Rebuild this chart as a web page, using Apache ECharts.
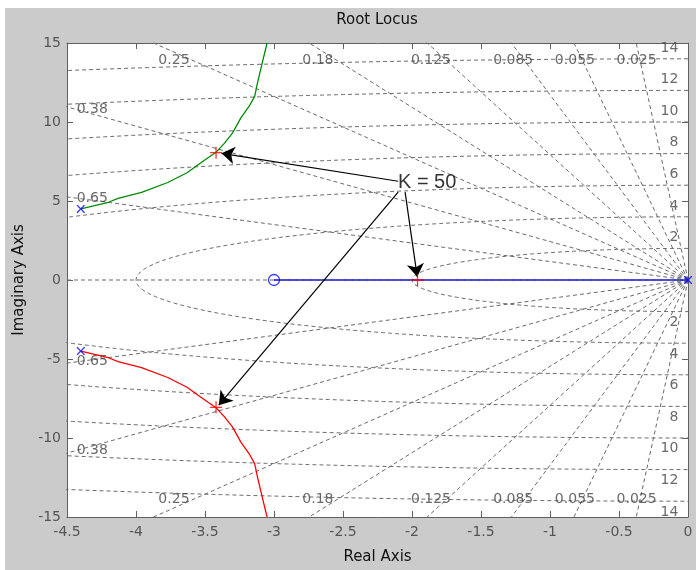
<!DOCTYPE html>
<html><head><meta charset="utf-8">
<script src="https://cdn.jsdelivr.net/npm/echarts@6/dist/echarts.min.js"></script>
<style>
html,body{margin:0;padding:0;background:#fff;}
#c{width:696px;height:570px;background:linear-gradient(#cbcbcb,#cbcbcb) 5px 8px/691px 562px no-repeat #fff;}
</style></head><body><div id="c"></div>
<script>
// ---- axes ----
const xRange = [-4.5, 0], xStep = 0.5;
const yRange = [-15, 15], yStep = 5;
// ---- s-grid values ----
const zetaVals = [0.025, 0.055, 0.085, 0.125, 0.18, 0.25, 0.38, 0.65];
const zetaLabels = ['0.025', '0.055', '0.085', '0.125', '0.18', '0.25', '0.38', '0.65'];
const wnVals = [2, 4, 6, 8, 10, 12, 14];
const wnLabels = ['2', '4', '6', '8', '10', '12', '14'];
// ---- open-loop poles / zeros ----
const poles = [[-4.4, 4.5], [-4.4, -4.5], [0, 0]];
const zerosPts = [[-3, 0]];
// ---- locus branches ----
const realBranch = [[0, 0], [-3, 0]];
const upperBranch = [[-4.40, 4.50], [-4.30, 4.70], [-4.20, 4.92], [-4.13, 5.16], [-3.96, 5.54], [-3.77, 6.17],
  [-3.63, 6.79], [-3.53, 7.42], [-3.42, 8.08], [-3.36, 8.65], [-3.30, 9.31], [-3.24, 10.26], [-3.18, 11.00],
  [-3.14, 11.62], [-3.12, 12.46], [-3.08, 13.93], [-3.05, 15.00]];
const lowerBranch = [[-4.40, -4.50], [-4.30, -4.70], [-4.20, -4.92], [-4.13, -5.16], [-3.96, -5.54], [-3.77, -6.17],
  [-3.63, -6.79], [-3.53, -7.42], [-3.42, -8.08], [-3.36, -8.65], [-3.30, -9.31], [-3.24, -10.26], [-3.18, -11.00],
  [-3.14, -11.62], [-3.12, -12.46], [-3.08, -13.93], [-3.05, -15.00]];
// ---- closed-loop poles at K = 50 and annotation ----
const gainPoints = [[-3.42, 8.06], [-3.42, -8.06], [-1.96, 0]];
const gainText = 'K = 50';
const gainTextPos = [-1.89, 6.18];
const arrowStarts = [[-2.10, 6.25], [-2.10, 5.56], [-2.05, 5.56]];
const arrowEnds = [[-3.38, 8.02], [-3.40, -7.92], [-1.962, 0.2]];

const FONT = 'DejaVu Sans';
const gridStyle = { color: '#6a6a6a', width: 1, type: [4, 3] };
const series = [];

series.push({ type: 'line', data: realBranch, symbol: 'none', lineStyle: { color: '#0000ff', width: 1.3 }, z: 2, animation: false, silent: true });

// damping-ratio rays
zetaVals.forEach(z => {
  const R = 40, s = Math.sqrt(1 - z * z);
  [1, -1].forEach(sg => {
    series.push({ type: 'line', data: [[0, 0], [-R * z, sg * R * s]], symbol: 'none', lineStyle: gridStyle, z: 1, animation: false, silent: true });
  });
});
// zeta = 1 ray (real axis)
series.push({ type: 'line', data: [[xRange[0], 0], [0, 0]], symbol: 'none', lineStyle: gridStyle, z: 3, animation: false, silent: true });
// natural-frequency circles
wnVals.forEach(w => {
  const pts = [];
  const N = 720;
  for (let i = 0; i <= N; i++) {
    const t = Math.PI / 2 + Math.PI * i / N;
    pts.push([w * Math.cos(t), w * Math.sin(t)]);
  }
  series.push({ type: 'line', data: pts, symbol: 'none', lineStyle: gridStyle, z: 1, animation: false, silent: true });
});

// grid labels
const labelStyle = { show: true, position: [0, 0], color: '#444', fontSize: 14, fontFamily: FONT, verticalAlign: 'middle' };
const gridLabelData = [];
zetaVals.forEach((z, i) => {
  const slope = Math.sqrt(1 - z * z) / z;
  if (yRange[1] / slope < -xRange[0]) {
    [13.9, -13.9].forEach(y => gridLabelData.push({ value: [-14.9 * z, y], label: Object.assign({}, labelStyle, { formatter: zetaLabels[i], align: 'center' }) }));
  } else {
    const x = -4.43;
    [1, -1].forEach(sg => gridLabelData.push({ value: [x, sg * (-x) * slope], label: Object.assign({}, labelStyle, { formatter: zetaLabels[i], align: 'left' }) }));
  }
});
wnVals.forEach((w, i) => {
  [1, -1].forEach(sg => gridLabelData.push({ value: [-0.07, sg * (w + 0.68)], label: Object.assign({}, labelStyle, { formatter: wnLabels[i], align: 'right' }) }));
});
series.push({ type: 'scatter', data: gridLabelData, symbolSize: 0, z: 4, animation: false, silent: true });

// complex branches
series.push({ type: 'line', data: upperBranch, symbol: 'none', lineStyle: { color: '#008a00', width: 1.3 }, z: 5, animation: false, silent: true });
series.push({ type: 'line', data: lowerBranch, symbol: 'none', lineStyle: { color: '#ff0000', width: 1.3 }, z: 5, animation: false, silent: true });

// poles and zeros
const xPath = 'path://M0,0L1.2,0L5,3.8L8.8,0L10,0L10,1.2L6.2,5L10,8.8L10,10L8.8,10L5,6.2L1.2,10L0,10L0,8.8L3.8,5L0,1.2Z';
series.push({ type: 'scatter', data: poles, symbol: xPath, symbolSize: 8, itemStyle: { color: '#0000ff' }, z: 6, animation: false, silent: true });
series.push({ type: 'scatter', data: zerosPts, symbol: 'circle', symbolSize: 11, itemStyle: { color: 'rgba(0,0,0,0)', borderColor: '#0000ff', borderWidth: 1.3 }, z: 6, animation: false, silent: true });
const plusPath = 'path://M4.45,0H5.55V10H4.45ZM0,4.45H10V5.55H0Z';
series.push({ type: 'scatter', data: gainPoints, symbol: plusPath, symbolSize: 12, itemStyle: { color: '#ff0000' }, z: 7, animation: false, silent: true });

// annotation text
series.push({
  type: 'scatter', data: [{ value: gainTextPos }], symbolSize: 0, z: 8, animation: false, silent: true,
  label: { show: true, position: [0, 0], align: 'center', verticalAlign: 'middle', formatter: gainText, color: '#000', fontSize: 20, fontFamily: 'Liberation Sans' }
});
// annotation arrows
series.push({
  type: 'line', data: [], symbol: 'none', z: 8, animation: false, silent: true,
  markLine: {
    silent: true, animation: false, symbol: ['none', 'arrow'], symbolSize: 13,
    lineStyle: { color: '#000', width: 1.2, type: 'solid' }, itemStyle: { color: '#000' }, label: { show: false },
    data: arrowStarts.map((s, i) => [{ coord: s }, { coord: arrowEnds[i] }])
  }
});

const axisCol = '#606060';
function xAx(pos, main) {
  return {
    type: 'value', min: xRange[0], max: xRange[1], interval: xStep, position: pos,
    axisLine: { show: true, onZero: false, lineStyle: { color: axisCol } },
    axisTick: { show: true, inside: true, length: 6, lineStyle: { color: axisCol } },
    axisLabel: { show: main, color: '#555', fontSize: 14, fontFamily: FONT, margin: 8 },
    splitLine: { show: false },
    name: main ? 'Real Axis' : '', nameLocation: 'middle', nameGap: 33,
    nameTextStyle: { color: '#111', fontSize: 15, fontFamily: FONT }
  };
}
function yAx(pos, main) {
  return {
    type: 'value', min: yRange[0], max: yRange[1], interval: yStep, position: pos,
    axisLine: { show: true, onZero: false, lineStyle: { color: axisCol } },
    axisTick: { show: true, inside: true, length: 6, lineStyle: { color: axisCol } },
    axisLabel: { show: main, color: '#555', fontSize: 14, fontFamily: FONT, margin: 6 },
    splitLine: { show: false },
    name: main ? 'Imaginary Axis' : '', nameLocation: 'middle', nameGap: 40,
    nameTextStyle: { color: '#111', fontSize: 15, fontFamily: FONT }
  };
}

const chart = echarts.init(document.getElementById('c'), null, { renderer: 'canvas' });
chart.setOption({
  backgroundColor: 'transparent',
  animation: false,
  title: { text: 'Root Locus', left: 377, top: 13, padding: 0, textAlign: 'center', textStyle: { color: '#111', fontSize: 15, fontWeight: 'normal', fontFamily: FONT } },
  grid: { left: 67, right: 8, top: 43, bottom: 51, show: true, backgroundColor: '#fff', borderWidth: 0 },
  xAxis: [xAx('bottom', true), xAx('top', false)],
  yAxis: [yAx('left', true), yAx('right', false)],
  series: series
});
</script></body></html>
